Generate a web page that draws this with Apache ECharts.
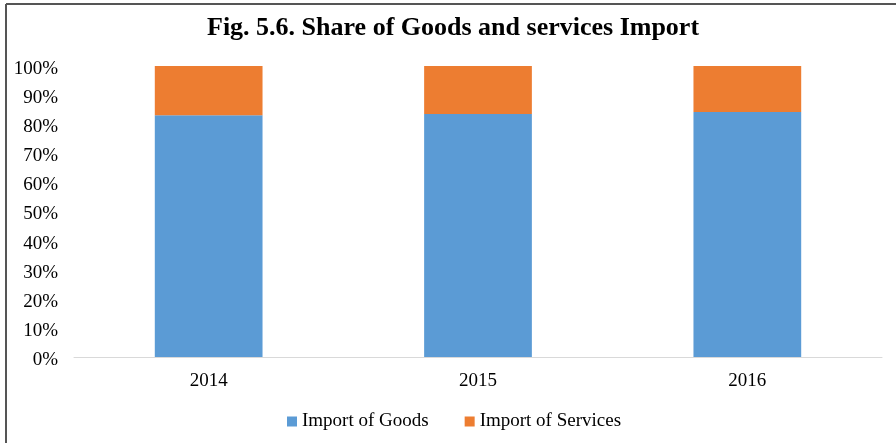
<!DOCTYPE html>
<html>
<head>
<meta charset="utf-8">
<script src="https://cdn.jsdelivr.net/npm/echarts@6/dist/echarts.min.js"></script>
<style>
  html, body { margin: 0; padding: 0; background: #fff; }
  #chart { width: 896px; height: 443px; }
</style>
</head>
<body>
<div id="chart"></div>
<script>
// Import composition by year (percent of total imports)
const years = ['2014', '2015', '2016'];
const importGoods = [83.1, 83.5, 84.2];
const importServices = [16.9, 16.5, 15.8];
const yTicks = [0, 10, 20, 30, 40, 50, 60, 70, 80, 90, 100];

const serif = '"Liberation Serif", "Times New Roman", serif';
const chart = echarts.init(document.getElementById('chart'));

chart.setOption({
  backgroundColor: '#ffffff',
  animation: false,
  title: {
    text: 'Fig. 5.6. Share of Goods and services Import',
    left: 202,
    top: 10,
    textStyle: { fontFamily: serif, fontWeight: 'bold', fontSize: 26, color: '#000' }
  },
  graphic: [
    { type: 'line', shape: { x1: 6, y1: 4, x2: 6, y2: 443 }, style: { stroke: '#555', lineWidth: 2 } },
    { type: 'line', shape: { x1: 6, y1: 4, x2: 896, y2: 4 }, style: { stroke: '#555', lineWidth: 2 } }
  ],
  legend: {
    top: 407,
    left: 282,
    itemWidth: 10,
    itemHeight: 10,
    itemGap: 36,
    icon: 'rect',
    textStyle: { fontFamily: serif, fontSize: 19, color: '#000' },
    data: ['Import of Goods', 'Import of Services']
  },
  grid: { left: 74, right: 14, top: 66, bottom: 86 },
  xAxis: {
    type: 'category',
    data: years,
    axisTick: { show: false },
    axisLine: { lineStyle: { color: '#d9d9d9', width: 1 } },
    axisLabel: { fontFamily: serif, fontSize: 19, color: '#000', margin: 15 }
  },
  yAxis: {
    type: 'value',
    min: yTicks[0],
    max: yTicks[yTicks.length - 1],
    interval: 10,
    axisLine: { show: false },
    axisTick: { show: false },
    splitLine: { show: false },
    axisLabel: {
      color: '#000', margin: 16,
      formatter: (v) => '{p|' + v + '%}',
      rich: {
        p: { fontFamily: serif, fontSize: 19, color: '#000', padding: [6, 0, 0, 0] }
      }
    }
  },
  series: [
    {
      name: 'Import of Goods',
      type: 'bar',
      stack: 'total',
      barWidth: '40%',
      itemStyle: { color: '#5b9bd5' },
      data: importGoods
    },
    {
      name: 'Import of Services',
      type: 'bar',
      stack: 'total',
      barWidth: '40%',
      itemStyle: { color: '#ed7d31' },
      data: importServices
    }
  ]
});
</script>
</body>
</html>
